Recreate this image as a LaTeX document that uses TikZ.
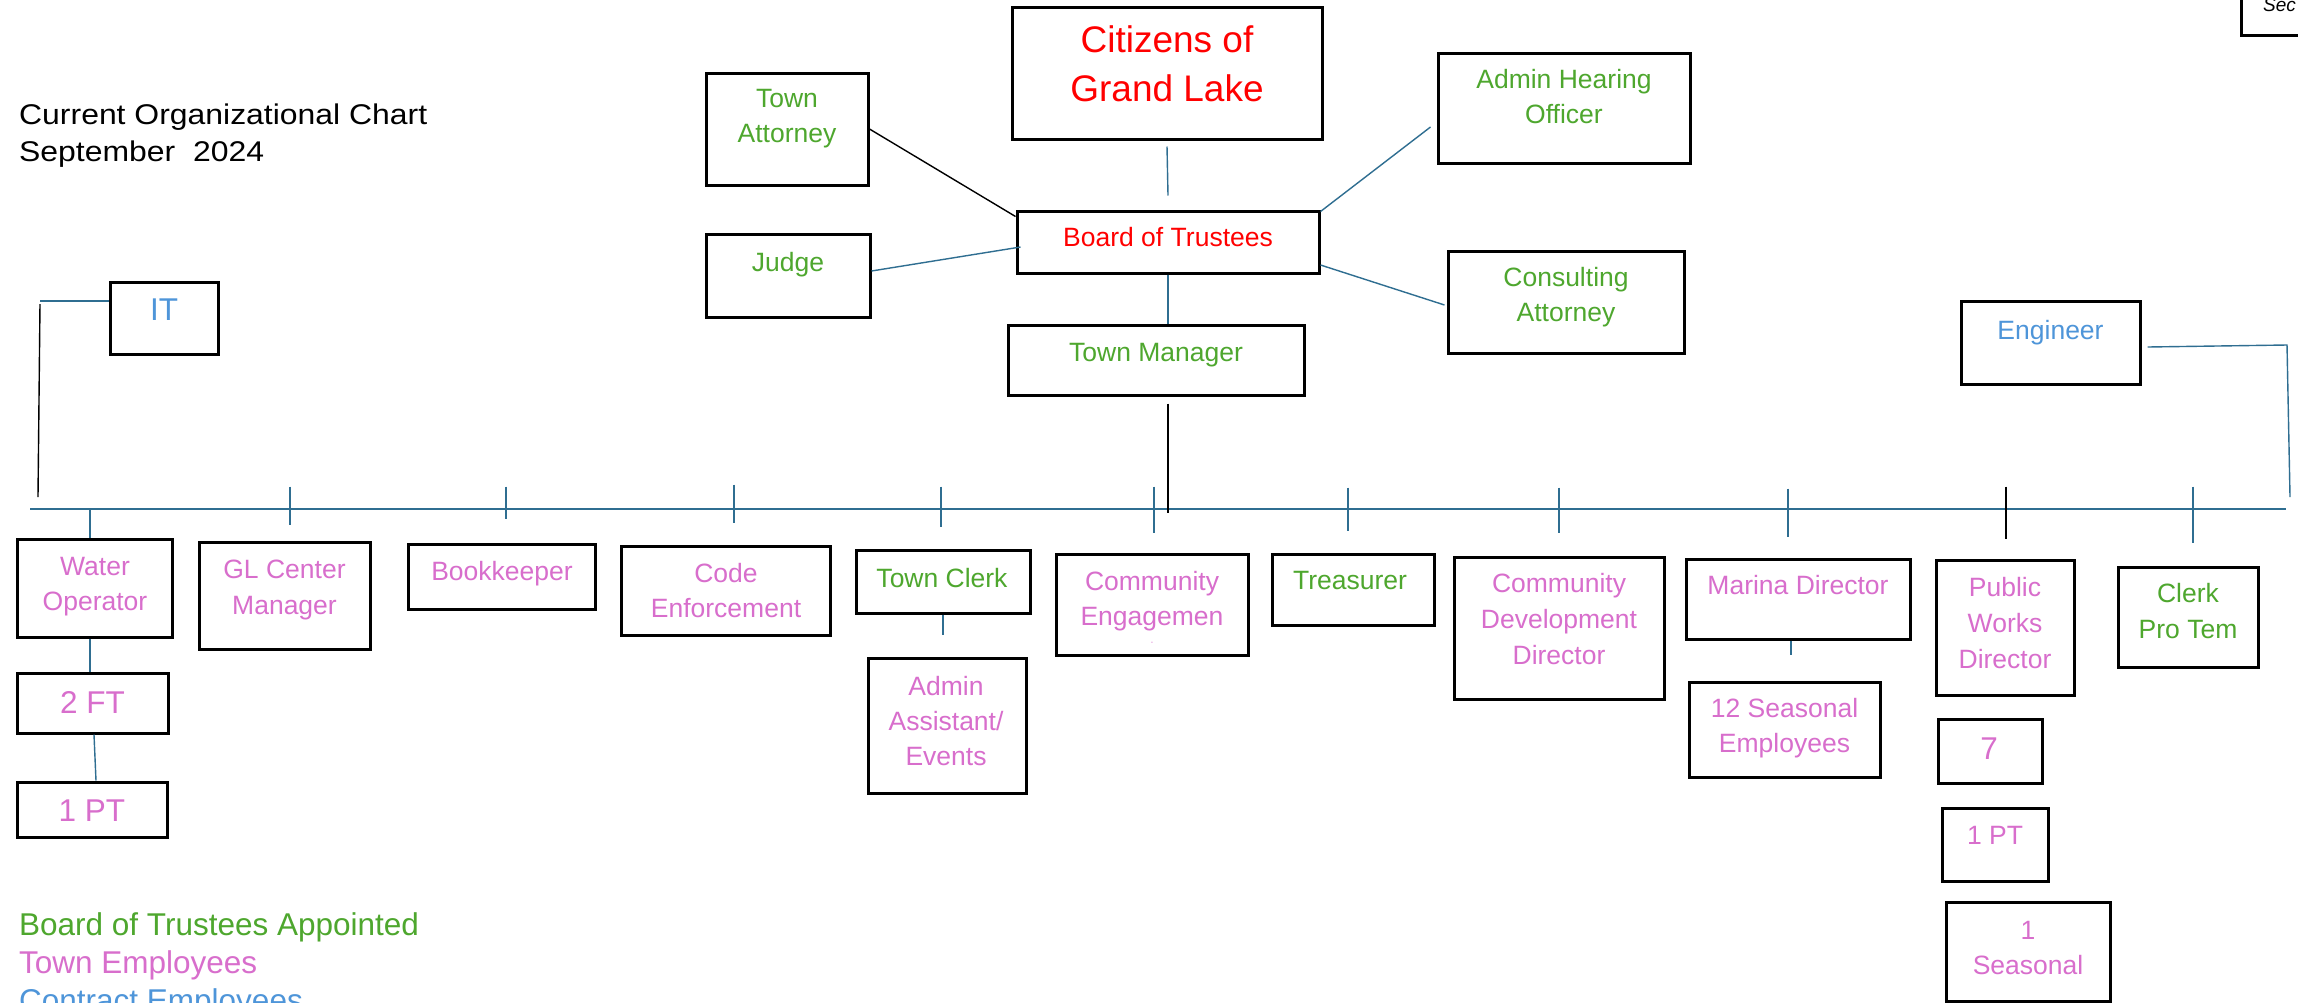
\documentclass[tikz,border=0pt]{standalone}
\usepackage{fontspec}
\setmainfont{Liberation Sans}
\newfontfamily\titlefont{Liberation Sans}[FakeStretch=1.12]
\usetikzlibrary{positioning}
\definecolor{trred}{HTML}{FF0000}
\definecolor{trgreen}{HTML}{4EA72E}
\definecolor{trpink}{HTML}{D86ECC}
\definecolor{trblue}{HTML}{4E95D9}
\definecolor{lineblue}{HTML}{2F6E91}
\tikzset{
  box/.style={rectangle,draw,line width=3pt,inner sep=0pt},
  txt/.style={align=center,inner sep=0pt,font=\fontsize{26.5}{35}\selectfont},
  rd/.style={txt,text=trred},
  grn/.style={txt,text=trgreen},
  pnk/.style={txt,text=trpink},
  blu/.style={txt,text=trblue},
  big/.style={font=\fontsize{31.5}{38}\selectfont},
  lgd/.style={anchor=base west,inner sep=0pt,font=\fontsize{31.5}{38}\selectfont},
  ln/.style={draw=lineblue,line width=1.4pt},
  blk/.style={draw=black,line width=1.4pt}
}
\begin{document}
\begin{tikzpicture}[x=1pt,y=-1pt]
\fill[white] (0,0) rectangle (2298,1002);
\useasboundingbox (0,0) rectangle (2298,1002);

% heading
\node[anchor=north west,align=left,inner sep=0pt,font=\titlefont\fontsize{28.5}{37}\selectfont] (ttl) at (19,104) {Current Organizational Chart\\September\ \ 2024};
\node[box,minimum width=98pt,minimum height=60pt] (sec) at (2290,5) {};
\node[anchor=base west,inner sep=0pt,font=\itshape\fontsize{19}{19}\selectfont] (sec-t) at (2263,11) {Sec};

% board and officers
\node[box,minimum width=310pt,minimum height=132pt] (cit) at (1167,73) {};
\node[rd,font=\fontsize{37}{49}\selectfont] (cit-t) at (1167,64) {Citizens of\\Grand Lake};
\node[box,minimum width=302pt,minimum height=62pt] (bot) at (1168,242) {};
\node[rd] (bot-t) at (1168,237) {Board of Trustees};
\node[box,minimum width=296pt,minimum height=70pt] (tm) at (1156,360) {};
\node[grn] (tm-t) at (1156,355) {Town Manager};
\node[box,minimum width=162pt,minimum height=112pt] (ta) at (787,129) {};
\node[grn] (ta-t) at (787,119) {Town\\Attorney};
\node[box,minimum width=164pt,minimum height=83pt] (jdg) at (788,275.5) {};
\node[grn] (jdg-t) at (788,265) {Judge};
\node[box,minimum width=252pt,minimum height=110pt] (aho) at (1564,108) {};
\node[grn] (aho-t) at (1564,96.5) {Admin Hearing\\Officer};
\node[box,minimum width=236pt,minimum height=102pt] (ca) at (1566,302) {};
\node[grn] (ca-t) at (1566,297.5) {Consulting\\Attorney};

\draw[ln] ([yshift=-6pt]cit.south) -- ([yshift=14pt]bot.north);
\draw[ln] (bot.south) -- (bot.south |- tm.north);
\draw[blk] (ta.east) -- ([yshift=-7pt]bot.north west);
\draw[ln] ([yshift=4.5pt]jdg.east) -- ([xshift=5pt,yshift=-5pt]bot.west);
\draw[ln] ([yshift=-2pt]bot.north east) -- ([xshift=-6pt,yshift=-19pt]aho.west);
\draw[ln] ([yshift=-23pt]bot.east) -- ([xshift=-2pt,yshift=-3pt]ca.west);

% main line
\coordinate (busl) at (30,509);
\coordinate (busr) at (2286,509);
\draw[ln] (busl) -- (busr);
\draw[blk] (tm.south -| bot.south) ++(0,7) -- ++(0,109);

% contract people
\node[box,minimum width=108pt,minimum height=72pt] (it) at (164,318) {};
\node[blu,big] (it-t) at (164,310) {IT};
\coordinate (itc) at (40,301);
\coordinate (itb) at (38,497);
\draw[ln] ([yshift=17pt]it.west) -- (itc);
\draw[blk] (itc) ++(0,3) -- (itb);
\node[box,minimum width=179pt,minimum height=83pt] (eng) at (2050.5,342.5) {};
\node[blu] (eng-t) at (2050.5,332.5) {Engineer};
\coordinate (engc) at (2287,345);
\coordinate (engb) at (2290,497);
\draw[ln] ([xshift=6pt,yshift=-4.5pt]eng.east) -- (engc) -- (engb);

% staff row
\node[box,minimum width=155pt,minimum height=98pt] (wat) at (94.5,588) {};
\node[pnk] (wat-t) at (95,587) {Water\\Operator};
\node[box,minimum width=151pt,minimum height=60pt] (tft) at (92.5,703) {};
\node[pnk,big] (tft-t) at (92.5,702) {2 FT};
\node[box,minimum width=150pt,minimum height=55pt] (opt) at (92,809.5) {};
\node[pnk,big] (opt-t) at (92,811) {1 PT};
\draw[ln] (wat.north) ++(-4.5,-28) -- ++(0,28);
\draw[ln] ([xshift=-4.5pt]wat.south) -- ([xshift=-2.5pt]tft.north);
\draw[ln] ([xshift=1.5pt]tft.south) -- ([xshift=4pt]opt.north);

\node[box,minimum width=171pt,minimum height=107pt] (gl) at (284.5,595.5) {};
\node[pnk,font=\fontsize{26.5}{36}\selectfont] (gl-t) at (284.5,590) {GL Center\\Manager};
\draw[ln] (gl.north) ++(5.5,-54) -- ++(0,38);

\node[box,minimum width=187pt,minimum height=65pt] (bk) at (501.5,576.5) {};
\node[pnk] (bk-t) at (502,574) {Bookkeeper};
\draw[ln] (bk.north) ++(4.5,-56) -- ++(0,32);

\node[box,minimum width=209pt,minimum height=89pt] (cen) at (725.5,590.5) {};
\node[pnk] (cen-t) at (726,591) {Code\\Enforcement};
\draw[ln] (cen.north) ++(8.5,-60) -- ++(0,38);

\node[box,minimum width=174pt,minimum height=63pt] (tc) at (943,581.5) {};
\node[grn] (tc-t) at (942,578) {Town Clerk};
\draw[ln] (tc.north) ++(-2,-62) -- ++(0,40);
\node[box,minimum width=158pt,minimum height=135pt] (adm) at (947,725.5) {};
\node[pnk] (adm-t) at (946,721) {Admin\\Assistant/\\Events};
\draw[ln] (tc.south) -- ++(0,20);

\node[box,minimum width=192pt,minimum height=101pt] (ceng) at (1152,604.5) {};
\node[pnk] (ceng-t) at (1152,601) {Community\\Engagemen};
\node[pnk,font=\fontsize{7}{7}\selectfont] (ceng-d) at (1152,643) {-};
\draw[ln] (ceng.north) ++(2,-66) -- ++(0,46);

\node[box,minimum width=162pt,minimum height=71pt] (tr) at (1353,589.5) {};
\node[grn] (tr-t) at (1350,581) {Treasurer};
\draw[ln] (tr.north) ++(-5,-65) -- ++(0,43);

\node[box,minimum width=210pt,minimum height=142pt] (cdd) at (1559,628) {};
\node[pnk,font=\fontsize{26.5}{36}\selectfont] (cdd-t) at (1559,619) {Community\\Development\\Director};
\draw[ln] (cdd.north) ++(0,-68) -- ++(0,45);

\node[box,minimum width=224pt,minimum height=80pt] (mar) at (1798,599) {};
\node[pnk] (mar-t) at (1798,585.5) {Marina Director};
\draw[ln] (mar.north) ++(-10,-69) -- ++(0,48);
\node[box,minimum width=191pt,minimum height=95pt] (sea) at (1784.5,729.5) {};
\node[pnk] (sea-t) at (1784.5,728) {12 Seasonal\\Employees};
\draw[ln] ([xshift=-7pt]mar.south) -- ++(0,14);

\node[box,minimum width=138pt,minimum height=135pt] (pw) at (2005,627.5) {};
\node[pnk,font=\fontsize{26.5}{36}\selectfont] (pw-t) at (2005,623) {Public\\Works\\Director};
\draw[blk] (pw.north) ++(1,-72) -- ++(0,52);
\node[box,minimum width=104pt,minimum height=64pt] (sev) at (1990,751) {};
\node[pnk,big] (sev-t) at (1989,748.5) {7};
\node[box,minimum width=106pt,minimum height=73pt] (pwpt) at (1995,844.5) {};
\node[pnk] (pwpt-t) at (1995,835) {1 PT};
\node[box,minimum width=164pt,minimum height=99pt] (pws) at (2028,951.5) {};
\node[pnk] (pws-t) at (2028,947.5) {1\\Seasonal};

\node[box,minimum width=140pt,minimum height=100pt] (cpt) at (2188,617) {};
\node[grn,font=\fontsize{26.5}{36}\selectfont] (cpt-t) at (2188,611.5) {Clerk\\Pro Tem};
\draw[ln] (cpt.north) ++(5,-79) -- ++(0,56);

% key
\node[lgd,text=trgreen] (key1) at (19,935) {Board of Trustees Appointed};
\node[lgd,text=trpink] (key2) at (19,973) {Town Employees};
\node[lgd,text=trblue] (key3) at (19,1011) {Contract Employees};
\end{tikzpicture}
\end{document}
